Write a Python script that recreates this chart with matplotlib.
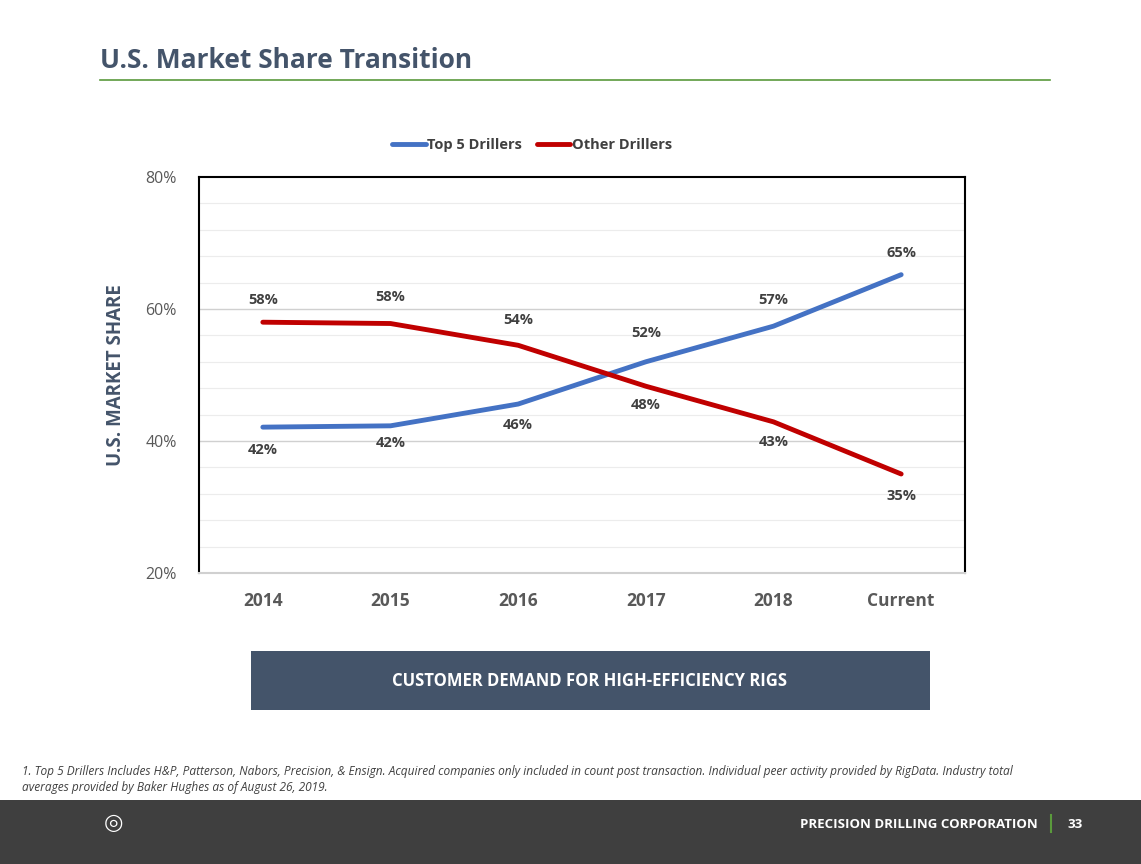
import matplotlib
matplotlib.use("Agg")
import matplotlib.pyplot as plt
from matplotlib.patches import Rectangle
from matplotlib.lines import Line2D

plt.rcParams['font.family'] = ['Open Sans', 'DejaVu Sans']

categories = ["2014", "2015", "2016", "2017", "2018", "Current"]
top5 = [42.1, 42.3, 45.6, 52.0, 57.4, 65.2]
other = [58.0, 57.8, 54.5, 48.3, 42.9, 35.0]
top5_labels = ["42%", "42%", "46%", "52%", "57%", "65%"]
other_labels = ["58%", "58%", "54%", "48%", "43%", "35%"]
yticks = [20, 40, 60, 80]
ytick_labels = ["20%", "40%", "60%", "80%"]

W, H = 1141, 864
fig = plt.figure(figsize=(W/100, H/100), dpi=100)

def fx(x): return x / W
def fy(y): return 1 - y / H

fig.text(fx(100), fy(60), "U.S. Market Share Transition", fontsize=19, fontweight='bold',
         color='#44546a', va='center', ha='left')
fig.add_artist(Line2D([fx(100), fx(1050)], [fy(80), fy(80)], color='#5a9a3c', lw=1.2))

ax = fig.add_axes([fx(199), fy(573), fx(965) - fx(199), fy(177) - fy(573)])
x = list(range(len(categories)))
for v in [24, 28, 32, 36, 44, 48, 52, 56, 64, 68, 72, 76]:
    ax.axhline(v, color='#ececec', lw=0.8, zorder=0)
for v in [40, 60]:
    ax.axhline(v, color='#d0d0d0', lw=1.0, zorder=0)

ax.plot(x, top5, color='#4472c4', lw=3.5, label='Top 5 Drillers', solid_capstyle='round')
ax.plot(x, other, color='#c00000', lw=3.5, label='Other Drillers', solid_capstyle='round')

top_off = [-3.4, -2.6, -3.2, -2.2, 4.0, 3.3]
oth_off = [3.4, 4.0, 3.8, -2.9, -3.0, -3.3]
top_off[3] = 52.0 and (333 - 573) / -6.6 + 20 - 52.0
for i in x:
    ax.text(i, top5[i] + top_off[i], top5_labels[i], ha='center', va='center',
            fontsize=10.5, fontweight='bold', color='#404040')
    ax.text(i, other[i] + oth_off[i], other_labels[i], ha='center', va='center',
            fontsize=10.5, fontweight='bold', color='#404040')

ax.set_xlim(-0.5, 5.5)
ax.set_ylim(20, 80)
ax.set_yticks(yticks)
ax.set_yticklabels(ytick_labels, fontsize=11.5, color='#595959')
ax.set_xticks(x)
ax.set_xticklabels(categories, fontsize=12.5, fontweight='bold', color='#595959')
ax.tick_params(axis='x', length=0, pad=14)
ax.tick_params(axis='y', length=0, pad=16)
for s in ['left', 'top', 'right']:
    ax.spines[s].set_color('black')
    ax.spines[s].set_linewidth(1.5)
ax.spines['bottom'].set_color('#d0d0d0')
ax.spines['bottom'].set_linewidth(1.5)
ax.set_ylabel("U.S. MARKET SHARE", fontsize=13.5, fontweight='bold', color='#44546a', labelpad=14)

leg = ax.legend(loc='lower center', bbox_to_anchor=(0.435, 1.03), ncol=2, frameon=False,
                handlelength=2.3, columnspacing=1.0, handletextpad=0.1,
                prop={'weight': 'bold', 'size': 10.5})
for t in leg.get_texts():
    t.set_color('#404040')

fig.add_artist(Rectangle((fx(251), fy(710)), fx(930) - fx(251), fy(651) - fy(710),
                         facecolor='#44546a', edgecolor='none'))
fig.text(fx(590), fy(681), "CUSTOMER DEMAND FOR HIGH-EFFICIENCY RIGS", ha='center', va='center',
         fontsize=12, fontweight='bold', color='white')

fig.text(fx(22), fy(772), "1. Top 5 Drillers Includes H&P, Patterson, Nabors, Precision, & Ensign. Acquired companies only included in count post transaction. Individual peer activity provided by RigData. Industry total",
         fontsize=8.6, style='italic', color='#404040', va='center')
fig.text(fx(22), fy(788), "averages provided by Baker Hughes as of August 26, 2019.",
         fontsize=8.6, style='italic', color='#404040', va='center')

fig.add_artist(Rectangle((0, 0), 1, fy(800), facecolor='#3f3f3f', edgecolor='none'))
fig.text(fx(1038), fy(824), "PRECISION DRILLING CORPORATION", ha='right', va='center',
         fontsize=9.5, fontweight='bold', color='white')
fig.add_artist(Line2D([fx(1051), fx(1051)], [fy(815), fy(832)], color='#5a9a3c', lw=1.5))
fig.text(fx(1075), fy(824), "33", ha='center', va='center', fontsize=9.5, fontweight='bold', color='white')
fig.text(fx(113), fy(823), "◎", ha='center', va='center', fontsize=16, color='white')

fig.savefig("out.png", dpi=100)
